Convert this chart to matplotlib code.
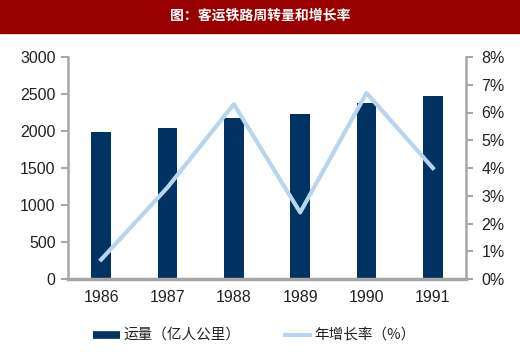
import matplotlib.pyplot as plt
from matplotlib.patches import Rectangle
from matplotlib.lines import Line2D

plt.rcParams['font.family'] = ['Liberation Sans', 'Noto Sans CJK SC', 'DejaVu Sans']
cjk = ['Noto Sans CJK SC', 'DejaVu Sans']

years = ['1986', '1987', '1988', '1989', '1990', '1991']
volume = [1985, 2045, 2170, 2230, 2385, 2470]
growth = [0.7, 3.3, 6.3, 2.4, 6.7, 4.0]

navy = '#003263'
light = '#B7D5EE'
grey = '#A6A6A6'

W, H = 520, 352
fig = plt.figure(figsize=(W / 100, H / 100), dpi=100)

# red title band
fig.patches.append(Rectangle((0, 1 - 33 / H), 1, 33 / H, transform=fig.transFigure,
                             color='#990000', zorder=0))
fig.text(0.5, 1 - 16 / H, '图：客运铁路周转量和增长率', color='white', ha='center', va='center',
         fontsize=10, fontweight='bold', family=cjk)

ax = fig.add_axes([68 / W, (H - 279) / H, (466 - 68) / W, (279 - 57) / H])
x = range(len(years))
ax.bar(x, volume, width=0.3, color=navy, zorder=2)
ax.set_xlim(-0.5, 5.5)
ax.set_ylim(0, 3000)
ax.set_yticks(range(0, 3001, 500))
ax.set_xticks(list(x))
ax.set_xticklabels(years)

ax2 = ax.twinx()
ax2.plot(list(x), growth, color=light, lw=3, zorder=3)
ax2.set_ylim(0, 8)
ax2.set_yticks(range(0, 9))
ax2.set_yticklabels([f'{v}%' for v in range(0, 9)])

for a in (ax, ax2):
    for s in a.spines.values():
        s.set_color(grey)
    a.spines['top'].set_visible(False)
    a.tick_params(colors=grey, labelcolor='#222222', labelsize=11.5, length=5, width=1.5)
ax.spines['left'].set_linewidth(1.8)
ax2.spines['right'].set_linewidth(1.8)
ax.spines['bottom'].set_linewidth(2.5)
ax.spines['right'].set_visible(False)
ax2.spines['left'].set_visible(False)
ax2.spines['bottom'].set_visible(False)
ax.tick_params(axis='y', pad=4)
ax2.tick_params(axis='y', pad=6)
ax.tick_params(axis='x', length=0, pad=8)

# legend drawn in figure pixels
ly = 1 - 335 / H
fig.add_artist(Line2D([93 / W, 120 / W], [ly, ly], color=navy, lw=5.5,
                      solid_capstyle='butt', transform=fig.transFigure))
fig.text(123 / W, ly, '运量（亿人公里）', ha='left', va='center', fontsize=10.5, family=cjk,
         color='#222222')
fig.add_artist(Line2D([283 / W, 312 / W], [ly, ly], color=light, lw=3,
                      solid_capstyle='butt', transform=fig.transFigure))
fig.text(314 / W, ly, '年增长率（%）', ha='left', va='center', fontsize=10.5, family=cjk,
         color='#222222')

fig.savefig('out.png', dpi=100)
